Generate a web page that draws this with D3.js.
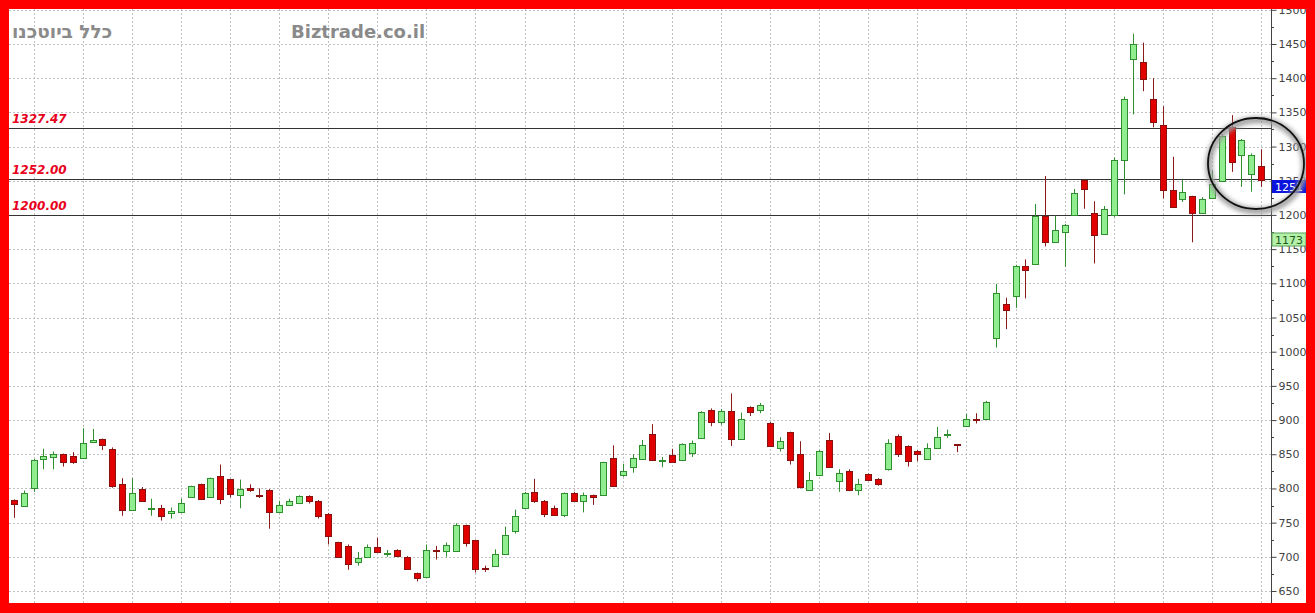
<!DOCTYPE html>
<html>
<head>
<meta charset="utf-8">
<script src="https://cdn.jsdelivr.net/npm/d3@7"></script>
<style>
html,body{margin:0;padding:0;background:#ff0000;}
svg{display:block;}
</style>
</head>
<body>
<svg id="chart" width="1315" height="613"></svg>
<script>
// ---- data ----
const open  = [783,774,800,843,846,850,848,844,868,872,858,806,768,799,772,771,764,765,788,806,787,818,814,791,800,790,798,765,776,779,789,782,763,721,716,692,700,715,704,710,700,676,671,710,709,708,746,724,684,687,704,738,771,795,782,771,761,794,781,790,790,845,820,832,843,880,840,849,841,852,874,914,897,913,873,919,914,896,859,882,850,797,820,871,811,825,797,821,814,828,876,862,855,843,859,879,865,891,902,901,1020,1070,1082,1125,1128,1199,1160,1175,1200,1251,1203,1172,1200,1280,1428,1423,1370,1331,1236,1224,1227,1203,1225,1249,1329,1287,1260,1271];
const high  = [784,797,843,858,854,851,853,888,887,873,860,815,815,802,785,776,772,785,804,807,816,835,814,813,806,800,799,782,785,790,790,783,764,722,718,707,718,728,710,711,701,677,718,716,721,749,747,725,687,711,744,769,795,814,783,775,794,795,794,791,839,863,836,850,871,894,846,858,866,870,913,917,916,939,911,920,925,897,875,883,869,824,856,881,828,828,814,822,815,872,879,863,856,866,890,886,865,909,910,928,1099,1079,1127,1135,1216,1257,1199,1187,1238,1252,1220,1213,1284,1373,1465,1452,1400,1359,1285,1251,1228,1226,1265,1318,1346,1311,1290,1296];
const low   = [757,774,795,828,828,832,836,844,867,856,801,760,768,782,760,753,756,765,788,783,786,777,787,771,795,786,741,765,775,777,778,756,718,700,681,687,699,706,700,700,681,664,670,696,700,707,715,677,678,686,703,734,770,779,758,760,758,780,765,776,789,803,817,823,842,840,831,838,840,846,873,891,893,862,872,906,910,861,854,835,800,797,820,830,795,796,790,811,804,826,846,832,840,842,859,874,853,890,895,900,1006,1033,1064,1078,1127,1154,1160,1124,1199,1209,1129,1171,1197,1230,1347,1381,1328,1224,1210,1219,1160,1202,1224,1248,1263,1241,1234,1241];
const close = [777,794,841,847,851,839,838,866,871,863,803,768,794,782,772,760,767,779,803,784,815,784,792,799,798,789,765,776,782,789,781,759,731,700,690,698,714,707,706,701,682,669,710,708,718,746,720,682,682,704,732,760,794,782,763,761,793,781,790,787,838,804,825,844,864,841,841,839,865,867,912,897,913,873,901,912,922,862,870,841,802,813,855,831,822,797,806,812,807,867,851,840,851,859,875,880,864,901,901,927,1086,1061,1125,1120,1199,1160,1178,1185,1232,1238,1170,1209,1280,1370,1450,1399,1336,1236,1211,1234,1203,1224,1245,1316,1277,1310,1288,1251];
const yTicks = [650,700,750,800,850,900,950,1000,1050,1100,1150,1200,1250,1300,1350,1400,1450,1500];
const levels = [1327.47, 1252.00, 1200.00];
const levelLabels = ["1327.47","1252.00","1200.00"];
const lastPrice = 1251;
const secondPrice = 1173;
const title = "כלל ביוטכנו";
const watermark = "Biztrade.co.il";

// ---- layout ----
const W = 1315, H = 613;
const plot = {left: 9, top: 9, right: 1271, bottom: 603};
const svg = d3.select("#chart");

const idx = d3.range(open.length);
const x = d3.scalePoint().domain(idx).range([14, 1261]);
const y = d3.scaleLinear().domain([650, 1450]).range([591, 44]);

svg.append("rect").attr("x", 0).attr("y", 0).attr("width", W).attr("height", H).attr("fill", "#ff0000");
svg.append("rect").attr("x", plot.left).attr("y", plot.top).attr("width", 1306 - plot.left).attr("height", plot.bottom - plot.top).attr("fill", "#ffffff");

// grid
const grid = svg.append("g").attr("stroke", "#c0c0c0").attr("stroke-width", 1).attr("stroke-dasharray", "2,2");
grid.selectAll(".hg").data(yTicks).join("line")
  .attr("x1", plot.left).attr("x2", plot.right)
  .attr("y1", d => Math.round(y(d)) + 0.5).attr("y2", d => Math.round(y(d)) + 0.5);
grid.selectAll(".vg").data(idx.filter(i => i % 5 === 2)).join("line")
  .attr("x1", d => Math.round(x(d)) + 0.5).attr("x2", d => Math.round(x(d)) + 0.5)
  .attr("y1", plot.top).attr("y2", plot.bottom);

// title texts
svg.append("text").attr("x", 12).attr("y", 38)
  .attr("font-family", "DejaVu Sans, Verdana, sans-serif").attr("font-weight", "bold")
  .attr("font-size", 18.5).attr("fill", "#8a8a8a").text(title);
svg.append("text").attr("x", 291).attr("y", 38)
  .attr("font-family", "DejaVu Sans, Verdana, sans-serif").attr("font-weight", "bold")
  .attr("font-size", 18).attr("fill", "#8a8a8a").text(watermark);

// level lines
svg.selectAll(".lvl").data(levels).join("line")
  .attr("x1", plot.left).attr("x2", plot.right)
  .attr("y1", d => Math.round(y(d)) + 0.5).attr("y2", d => Math.round(y(d)) + 0.5)
  .attr("stroke", "#333333").attr("stroke-width", 1);
svg.selectAll(".lvlt").data(levels).join("text")
  .attr("x", 12).attr("y", d => Math.round(y(d)) - 5)
  .attr("font-family", "DejaVu Sans, Verdana, sans-serif").attr("font-weight", "bold")
  .attr("font-style", "italic").attr("font-size", 12).attr("fill", "#e8001c")
  .text((d, i) => levelLabels[i]);

// candles
const g = svg.append("g");
idx.forEach(i => {
  const up = close[i] >= open[i];
  const cx = Math.round(x(i));
  const wick = up ? "#2f8f2f" : "#8b1a1a";
  g.append("line")
    .attr("x1", cx + 0.5).attr("x2", cx + 0.5)
    .attr("y1", y(high[i])).attr("y2", y(low[i]))
    .attr("stroke", wick).attr("stroke-width", 1);
  const yt = Math.round(y(Math.max(open[i], close[i])));
  const yb = Math.round(y(Math.min(open[i], close[i])));
  g.append("rect")
    .attr("x", cx - 2.5).attr("y", yt + 0.5)
    .attr("width", 6).attr("height", Math.max(1, yb - yt))
    .attr("fill", up ? "#90ee90" : "#e00000")
    .attr("stroke", up ? "#2f8f2f" : "#8b1010").attr("stroke-width", 1);
});

// axis panel
svg.append("rect").attr("x", plot.right).attr("y", plot.top).attr("width", 1306 - plot.right).attr("height", plot.bottom - plot.top).attr("fill", "#ffffff");
const axis = d3.axisRight(y).tickValues(yTicks).tickSize(5).tickPadding(2).tickFormat(d3.format("d"));
const ag = svg.append("g").attr("transform", `translate(${plot.right + 0.5},0)`).call(axis);
ag.select(".domain").remove();
ag.selectAll("line").attr("stroke", "#444");
ag.selectAll("text").attr("font-family", "DejaVu Sans, Verdana, sans-serif").attr("font-size", 11).attr("fill", "#444");
svg.append("line").attr("x1", plot.right + 0.5).attr("x2", plot.right + 0.5).attr("y1", plot.top).attr("y2", plot.bottom).attr("stroke", "#444");
const minor = d3.range(625, 1525, 50);
svg.selectAll(".mt").data(minor).join("line")
  .attr("x1", plot.right).attr("x2", plot.right + 3)
  .attr("y1", d => Math.round(y(d)) + 0.5).attr("y2", d => Math.round(y(d)) + 0.5)
  .attr("stroke", "#444");

// price tags
function tag(v, bg, fg, border) {
  const ty = Math.round(y(v));
  svg.append("rect").attr("x", plot.right + 1).attr("y", ty).attr("width", 34).attr("height", 13)
    .attr("fill", bg).attr("stroke", border).attr("stroke-width", border === "none" ? 0 : 1);
  svg.append("text").attr("x", plot.right + 4).attr("y", ty + 10.5)
    .attr("font-family", "DejaVu Sans, Verdana, sans-serif").attr("font-size", 11)
    .attr("fill", fg).text(v);
}
tag(lastPrice, "#0a14dc", "#ffffff", "none");
tag(secondPrice, "#b4f0a8", "#1a5a1a", "#5aa05a");

// circle annotation
const defs = svg.append("defs");
defs.append("filter").attr("id", "blur").attr("x", "-20%").attr("y", "-20%").attr("width", "140%").attr("height", "140%")
  .append("feGaussianBlur").attr("stdDeviation", 2.5);
const cxE = 1256, cyE = 163.5;
svg.append("ellipse").attr("cx", cxE + 1).attr("cy", cyE + 2).attr("rx", 48).attr("ry", 45.5)
  .attr("fill", "none").attr("stroke", "#999").attr("stroke-width", 6).attr("filter", "url(#blur)");
svg.append("ellipse").attr("cx", cxE).attr("cy", cyE).attr("rx", 48).attr("ry", 45.5)
  .attr("fill", "none").attr("stroke", "#111").attr("stroke-width", 1.8);

// red frame on top
const frame = svg.append("g").attr("fill", "#ff0000");
frame.append("rect").attr("x", 0).attr("y", 0).attr("width", W).attr("height", plot.top);
frame.append("rect").attr("x", 0).attr("y", plot.bottom).attr("width", W).attr("height", H - plot.bottom);
frame.append("rect").attr("x", 0).attr("y", 0).attr("width", plot.left).attr("height", H);
frame.append("rect").attr("x", 1306).attr("y", 0).attr("width", W - 1306).attr("height", H);
</script>
</body>
</html>
